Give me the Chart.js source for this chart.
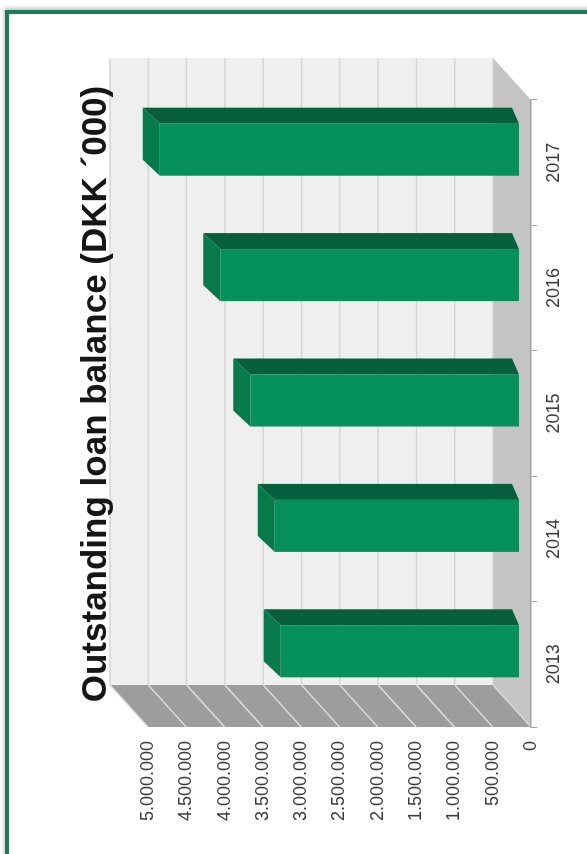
<!DOCTYPE html>
<html>
<head>
<meta charset="utf-8">
<script src="https://cdn.jsdelivr.net/npm/chart.js@4.4.1/dist/chart.umd.min.js"></script>
<style>
  body { margin: 0; width: 587px; height: 854px; overflow: hidden; background: #fff; position: relative; }
  #frame { position: absolute; left: 5px; top: 10px; width: 620px; height: 900px;
           border-top: 4px solid #1c7b57; border-left: 4px solid #1c7b57;
           box-shadow: -1px -2px 4px rgba(0,0,0,0.25); }
  #wrap { position: absolute; left: 0; top: 0; width: 854px; height: 587px;
          transform-origin: 0 0; transform: translate(0, 854px) rotate(-90deg); }
  #title { position: absolute; left: 60px; top: 76px; width: 800px; text-align: center;
           font: bold 35px "Liberation Sans", Arial, sans-serif; line-height: 35px; color: #161616; }
</style>
</head>
<body>
<div id="frame"></div>
<div id="wrap">
  <canvas id="loanChart" width="854" height="587"></canvas>
  <div id="title">Outstanding loan balance (DKK ´000)</div>
</div>
<script>
const years = ["2013", "2014", "2015", "2016", "2017"]
const loanBalance = [3110000, 3190000, 3510000, 3900000, 4690000]
const axisMax = 5000000
const axisStep = 500000

// depth of the walls and of the bars (3d look)
const wallDX = 42, wallDY = -38
const barDX = 13, barDY = -12

function dotThousands(v) {
    return v.toString().replace(/\B(?=(\d{3})+(?!\d))/g, ".");
}

const walls = {
    id: "walls",
    beforeDraw(chart) {
        const ctx = chart.ctx;
        const a = chart.chartArea;
        const yScale = chart.scales.y;
        ctx.save();
        // back wall
        ctx.fillStyle = "#efefef";
        ctx.fillRect(a.left + wallDX, a.top + wallDY, a.right - a.left, a.bottom - a.top);
        // side wall
        ctx.fillStyle = "#9d9d9d";
        ctx.beginPath();
        ctx.moveTo(a.left, a.top);
        ctx.lineTo(a.left + wallDX, a.top + wallDY);
        ctx.lineTo(a.left + wallDX, a.bottom + wallDY);
        ctx.lineTo(a.left, a.bottom);
        ctx.closePath();
        ctx.fill();
        // floor
        ctx.fillStyle = "#c4c4c4";
        ctx.beginPath();
        ctx.moveTo(a.left, a.bottom);
        ctx.lineTo(a.right, a.bottom);
        ctx.lineTo(a.right + wallDX, a.bottom + wallDY);
        ctx.lineTo(a.left + wallDX, a.bottom + wallDY);
        ctx.closePath();
        ctx.fill();
        // grid lines
        yScale.ticks.forEach(t => {
            const p = yScale.getPixelForValue(t.value);
            ctx.strokeStyle = "#d5d5d5";
            ctx.lineWidth = 1.5;
            ctx.beginPath();
            ctx.moveTo(a.left + wallDX, p + wallDY);
            ctx.lineTo(a.right + wallDX, p + wallDY);
            ctx.stroke();
            ctx.strokeStyle = "#dcdcdc";
            ctx.beginPath();
            ctx.moveTo(a.left, p);
            ctx.lineTo(a.left + wallDX, p + wallDY);
            ctx.stroke();
        });
        ctx.restore();
    },
    beforeDatasetsDraw(chart) {
        const ctx = chart.ctx;
        const meta = chart.getDatasetMeta(0);
        ctx.save();
        meta.data.forEach(bar => {
            const b = bar.getProps(["x", "y", "base", "width"], true);
            const x1 = b.x - b.width / 2 + barDX, x2 = b.x + b.width / 2 + barDX;
            const yT = b.y + barDY, yB = b.base + barDY;
            // side face
            ctx.fillStyle = "#075f3d";
            ctx.beginPath();
            ctx.moveTo(x2, yT);
            ctx.lineTo(x2 + 16, yT - 17);
            ctx.lineTo(x2 + 16, yB - 7);
            ctx.lineTo(x2, yB);
            ctx.closePath();
            ctx.fill();
            // top face
            ctx.fillStyle = "#077a4c";
            ctx.beginPath();
            ctx.moveTo(x1, yT);
            ctx.lineTo(x1 + 16, yT - 17);
            ctx.lineTo(x2 + 16, yT - 17);
            ctx.lineTo(x2, yT);
            ctx.closePath();
            ctx.fill();
        });
        ctx.restore();
        ctx.save();
        ctx.translate(barDX, barDY);
    },
    afterDatasetsDraw(chart) {
        chart.ctx.restore();
    }
};

const loanChart = new Chart(document.getElementById("loanChart"), {
    type: "bar",
    data: {
        labels: years,
        datasets: [{
            label: "Outstanding loan balance",
            data: loanBalance,
            backgroundColor: "#06905b",
            barPercentage: 0.415,
            categoryPercentage: 1,
            clip: false
        }]
    },
    options: {
        responsive: false,
        animation: false,
        events: [],
        layout: { padding: { left: 0, right: 100, top: 148, bottom: 0 } },
        plugins: { legend: { display: false }, title: { display: false }, tooltip: { enabled: false } },
        scales: {
            x: {
                grid: { display: true, drawOnChartArea: false, drawTicks: true, tickLength: 6, color: "#a3a3a3" },
                border: { display: true, color: "#a3a3a3", width: 1.5 },
                ticks: { color: "#3c3c3c", padding: 6, font: { family: "'Liberation Sans', Arial", size: 18 }, maxRotation: 0 },
                afterFit(scale) { scale.height = 56; }
            },
            y: {
                min: 0,
                max: axisMax,
                grid: { display: false, drawTicks: false },
                border: { display: false },
                ticks: {
                    stepSize: axisStep,
                    padding: 14,
                    color: "#3c3c3c",
                    font: { family: "'Liberation Sans', Arial", size: 18 },
                    callback: v => dotThousands(v)
                },
                afterFit(scale) { scale.width = 127; }
            }
        }
    },
    plugins: [walls]
});
</script>
</body>
</html>
